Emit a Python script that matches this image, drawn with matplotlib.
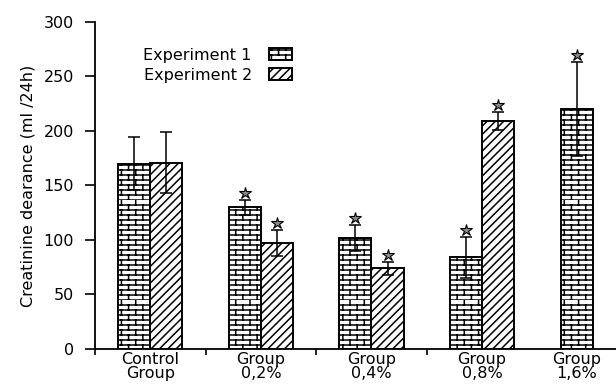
import warnings
import numpy as np
import matplotlib
matplotlib.use("Agg")
import matplotlib.pyplot as plt
from matplotlib import hatch as mhatch
from matplotlib.path import Path
from matplotlib.transforms import offset_copy

groups = ["Control\nGroup", "Group\n0,2%", "Group\n0,4%", "Group\n0,8%", "Group\n1,6%"]
exp1_mean = np.array([170, 130, 102, 84, 220])
exp1_err = np.array([24, 7, 12, 19, 43])
exp2_mean = np.array([171, 97, 74, 209, np.nan])
exp2_err = np.array([28, 12, 6, 8, np.nan])
exp1_sig = np.array([False, True, True, True, True])
exp2_sig = np.array([False, True, True, True, False])


# brick-wall hatch, registered under the letter 'b'
class BrickHatch(mhatch.HatchPatternBase):
    rows = 20
    cols = 7

    def __init__(self, hatch, density):
        self.on = 'b' in hatch
        n_h = self.rows * 2
        n_v = self.rows * self.cols * 2
        self.num_vertices = (n_h + n_v) if self.on else 0

    def set_vertices_and_codes(self, vertices, codes):
        r, c = self.rows, self.cols
        ys = np.arange(r) / r
        # horizontal mortar lines
        vertices[0:2 * r:2] = np.column_stack([np.zeros(r), ys])
        vertices[1:2 * r:2] = np.column_stack([np.ones(r), ys])
        # vertical joints, shifted half a brick every other row
        k = 2 * r
        for i in range(r):
            shift = 0.5 if i % 2 else 0.0
            for j in range(c):
                x = ((j + shift) / c) % 1.0
                vertices[k] = (x, i / r)
                vertices[k + 1] = (x, (i + 1) / r)
                k += 2
        codes[0::2] = Path.MOVETO
        codes[1::2] = Path.LINETO


mhatch._hatch_types.append(BrickHatch)
warnings.filterwarnings("ignore")

plt.rcParams['font.family'] = ['DejaVu Sans']
plt.rcParams['font.size'] = 11.5
plt.rcParams['hatch.linewidth'] = 1.1

fig = plt.figure(figsize=(6.16, 3.88), dpi=100)
ax = fig.add_axes([0.154, 0.1005, 0.846, 0.843])

x = np.arange(len(groups))
w = 0.29

ax.bar(x - w / 2, exp1_mean, w, color='white', edgecolor='black',
       linewidth=1.4, hatch='b', label='Experiment 1', zorder=2)
ax.bar(x + w / 2, exp2_mean, w, color='white', edgecolor='black',
       linewidth=1.4, hatch='////', label='Experiment 2', zorder=2)

eb = dict(fmt='none', ecolor='black', elinewidth=1.1, capsize=4.3,
          capthick=1.1, zorder=3)
ax.errorbar(x - w / 2, exp1_mean, yerr=exp1_err, **eb)
ax.errorbar(x + w / 2, exp2_mean, yerr=exp2_err, **eb)

# significance stars just above the error bars
star_tr = offset_copy(ax.transData, fig=fig, y=5, units='points')
star = dict(ls='', marker='*', ms=9, mfc='#8a8a8a', mec='black', mew=0.8,
            transform=star_tr, zorder=4, clip_on=False)
ax.plot((x - w / 2)[exp1_sig], (exp1_mean + exp1_err)[exp1_sig], **star)
ax.plot((x + w / 2)[exp2_sig], (exp2_mean + exp2_err)[exp2_sig], **star)

# group labels sit under the bars that are present
centers = np.where(np.isnan(exp2_mean), x - w / 2, x)
ax.set_xticks(centers)
ax.set_xticklabels(groups, linespacing=0.95)
ax.set_xticks(x[:-1] - 0.5, minor=True)
ax.tick_params(axis='x', which='major', length=0, pad=2)
ax.tick_params(axis='x', which='minor', length=4, width=1.2)
ax.tick_params(axis='y', length=7, width=1.2, pad=8)

ax.set_xlim(-0.5, 4.21)
ax.set_ylim(0, 300)
ax.set_yticks([0, 50, 100, 150, 200, 250, 300])
ax.set_ylabel("Creatinine dearance (ml /24h)", fontsize=11.5, labelpad=6)

for s in ['top', 'right']:
    ax.spines[s].set_visible(False)
ax.spines['left'].set_linewidth(1.3)
ax.spines['bottom'].set_linewidth(1.3)

ax.legend(loc='upper left', bbox_to_anchor=(0.078, 0.945), frameon=False,
          markerfirst=False, handlelength=1.4, handleheight=0.8,
          labelspacing=0.3, handletextpad=1.1, borderpad=0)

fig.savefig("out.png", dpi=100)
